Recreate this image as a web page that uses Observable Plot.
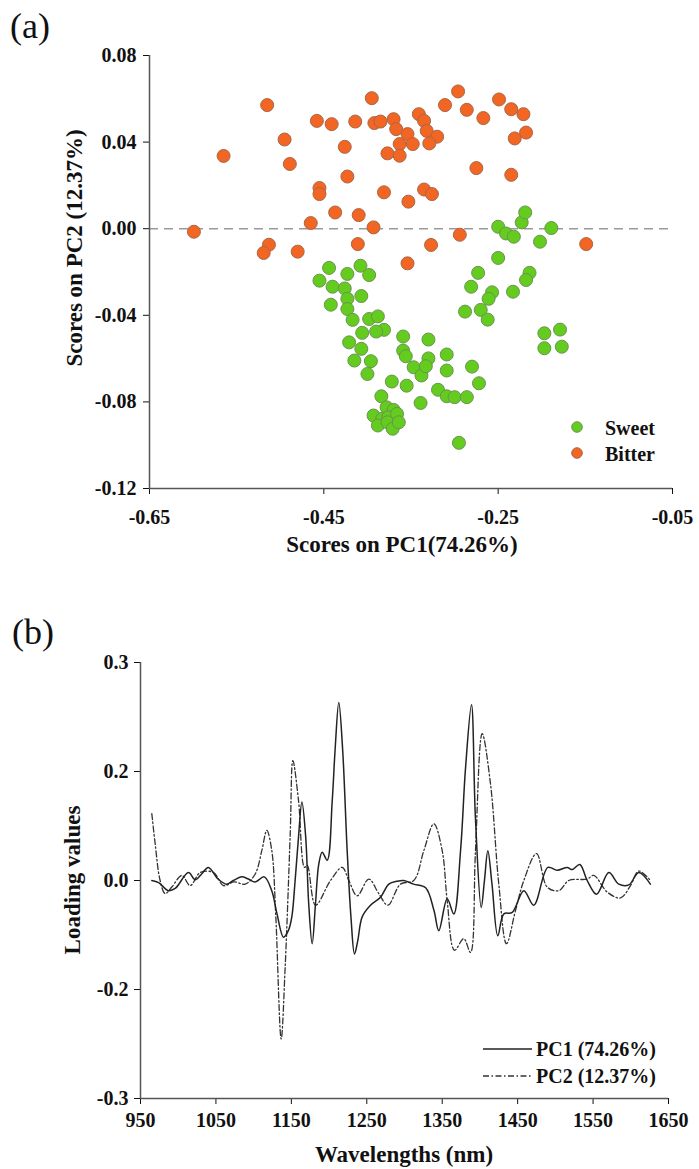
<!DOCTYPE html>
<html>
<head>
<meta charset="utf-8">
<script src="https://cdn.jsdelivr.net/npm/d3@7"></script>
<script src="https://cdn.jsdelivr.net/npm/@observablehq/plot@0.6"></script>
<style>
  html, body { margin: 0; padding: 0; background: #fff; }
  #fig { position: relative; width: 699px; height: 1169px; overflow: hidden; background: #fff; }
  #fig > svg.plotA, #fig > svg.plotB, #fig > .plotA, #fig > .plotB { position: absolute; left: 0; }
  #overlay { position: absolute; left: 0; top: 0; pointer-events: none; }
  .serif { font-family: 'Liberation Serif', 'Times New Roman', serif; }
</style>
</head>
<body>
<div id="fig"></div>
<script>
// ---------- Panel (a): PCA scores ----------
const sweetPC1 = [-0.444,-0.455,-0.440,-0.423,-0.408,-0.398,-0.426,-0.423,-0.407,-0.442,
  -0.423,-0.417,-0.398,-0.388,-0.381,-0.390,-0.406,-0.421,-0.407,-0.415,
  -0.396,-0.400,-0.359,-0.359,-0.356,-0.347,-0.338,-0.372,-0.355,-0.339,
  -0.384,-0.378,-0.370,-0.393,-0.383,-0.376,-0.366,-0.388,-0.377,-0.371,
  -0.364,-0.250,-0.223,-0.219,-0.241,-0.232,-0.189,-0.202,-0.250,-0.273,
  -0.214,-0.218,-0.281,-0.257,-0.233,-0.261,-0.288,-0.270,-0.262,-0.197,
  -0.179,-0.197,-0.177,-0.330,-0.330,-0.333,-0.309,-0.309,-0.280,-0.319,
  -0.309,-0.300,-0.286,-0.272,-0.295];
const sweetPC2 = [-0.0181,-0.0240,-0.0268,-0.0209,-0.0171,-0.0214,-0.0276,-0.0324,-0.0311,-0.0351,
  -0.0371,-0.0421,-0.0417,-0.0405,-0.0467,-0.0475,-0.0481,-0.0525,-0.0555,-0.0609,
  -0.0612,-0.0671,-0.0498,-0.0563,-0.0589,-0.0640,-0.0678,-0.0706,-0.0725,-0.0805,
  -0.0774,-0.0825,-0.0837,-0.0863,-0.0878,-0.0871,-0.0855,-0.0909,-0.0894,-0.0924,
  -0.0894,0.0009,0.0029,0.0075,-0.0022,-0.0037,0.0003,-0.0060,-0.0135,-0.0204,
  -0.0204,-0.0237,-0.0268,-0.0294,-0.0291,-0.0324,-0.0383,-0.0375,-0.0420,-0.0483,
  -0.0466,-0.0552,-0.0545,-0.0512,-0.0599,-0.0635,-0.0581,-0.0655,-0.0637,-0.0744,
  -0.0774,-0.0778,-0.0778,-0.0714,-0.0989];
const bitterPC1 = [-0.515,-0.565,-0.599,-0.495,-0.489,-0.458,-0.441,-0.414,-0.395,-0.392,
  -0.385,-0.370,-0.367,-0.354,-0.363,-0.348,-0.377,-0.363,-0.426,-0.423,
  -0.455,-0.455,-0.381,-0.353,-0.437,-0.410,-0.465,-0.393,-0.513,-0.519,
  -0.480,-0.411,-0.354,-0.341,-0.335,-0.332,-0.320,-0.329,-0.311,-0.296,
  -0.286,-0.267,-0.249,-0.235,-0.221,-0.218,-0.231,-0.275,-0.235,-0.335,
  -0.326,-0.294,-0.327,-0.149];
const bitterPC2 = [0.0571,0.0336,-0.0014,0.0412,0.0299,0.0498,0.0483,0.0495,0.0603,0.0488,
  0.0495,0.0506,0.0460,0.0437,0.0391,0.0391,0.0348,0.0337,0.0378,0.0241,
  0.0188,0.0160,0.0168,0.0125,0.0075,0.0063,0.0026,0.0006,-0.0074,-0.0112,
  -0.0106,-0.0071,-0.0160,0.0529,0.0498,0.0452,0.0425,0.0394,0.0571,0.0634,
  0.0549,0.0511,0.0597,0.0552,0.0529,0.0444,0.0417,0.0280,0.0249,0.0181,
  0.0160,-0.0028,-0.0075,-0.0071];
const scoreXTicks = [-0.65, -0.45, -0.25, -0.05];
const scoreXTickLabels = ["-0.65", "-0.45", "-0.25", "-0.05"];
const scoreYTicks = [0.08, 0.04, 0, -0.04, -0.08, -0.12];
const scoreYTickLabels = ["0.08", "0.04", "0.00", "-0.04", "-0.08", "-0.12"];

// ---------- Panel (b): loadings ----------
const pc1Wavelength = [965,974,987,996,1013.6,1022.5,1031,1040,1053,1064,1073,1084,1093,1102,1114,1124,1131,1139.6,1146,1150.6,
  1155,1159.5,1164,1169,1173,1177.6,1182,1186.4,1190.9,1197.5,1204.2,1208,1212.9,1218,1224,1229,1233.7,1238,1243.9,1254.9,
  1268.2,1279.2,1290,1299,1312,1328,1339,1345.5,1356.6,1365.4,1374.3,1381,1388.8,1394,1401.7,1406,1410.5,1416,1423.7,1431.7,
  1442.8,1458.2,1471.4,1490,1502.4,1515.7,1522.3,1532.4,1542.2,1554.6,1570.9,1584.1,1597.4,1610.6,1626];
const pc1Loading = [0,-0.003,-0.014,-0.011,0.011,0.001,0.009,0.018,0.002,-0.005,0,0.005,0.002,-0.002,0.005,-0.014,-0.046,-0.078,-0.069,-0.050,
  0,0.060,0.108,0.060,-0.032,-0.087,-0.032,0.023,0.039,0.028,0.110,0.180,0.245,0.180,0.041,-0.050,-0.101,-0.083,-0.050,-0.034,
  -0.023,-0.005,-0.001,0,-0.005,-0.010,-0.041,-0.069,-0.025,-0.046,0.041,0.156,0.242,0.087,-0.037,0,0.041,-0.005,-0.076,-0.046,
  -0.044,-0.014,-0.034,0.018,0.014,0.018,0.015,0.022,0,-0.019,0.011,-0.005,-0.006,0.011,-0.005];
const pc2Wavelength = [965,969.5,976,982.7,991.5,1004.8,1015.9,1029.2,1046.8,1060,1074,1088.8,1102.1,1110.8,1117.5,1124.1,1129.4,1136.5,1141.8,1148.5,
  1152,1159.5,1167.4,1171,1182,1201.9,1217.4,1226.2,1237.3,1252.7,1265.9,1277.9,1294.7,1312.3,1325.6,1338.9,1350,1356.6,1366.3,1378.6,
  1387.5,1394.1,1403,1414,1425,1435.2,1447.2,1458.2,1475,1489.2,1504.6,1517.8,1542.2,1551,1568.8,1586.4,1599.6,1610.6,1626];
const pc2Loading = [0.092,0.050,0,-0.018,-0.009,0.007,-0.007,0.011,0.011,-0.007,-0.002,-0.005,0.009,0.041,0.069,0.041,-0.050,-0.218,-0.119,0.064,
  0.165,0.110,0.018,0.021,-0.034,0,0.018,0,-0.021,0.002,-0.018,-0.034,-0.005,0,0.041,0.078,0.041,-0.028,-0.096,-0.080,
  -0.099,0.041,0.202,0.133,-0.005,-0.087,-0.041,0,0.037,-0.009,-0.014,0,0.002,0.007,-0.016,-0.024,-0.007,0.013,0];
const waveTicks = [950, 1050, 1150, 1250, 1350, 1450, 1550, 1650];
const waveTickLabels = ["950", "1050", "1150", "1250", "1350", "1450", "1550", "1650"];
const loadTicks = [0.3, 0.15, 0, -0.15, -0.3];
const loadTickLabels = ["0.3", "0.2", "0.0", "-0.2", "-0.3"];

// ---------- build ----------
const sweet = sweetPC1.map((v, i) => ({pc1: v, pc2: sweetPC2[i]}));
const bitter = bitterPC1.map((v, i) => ({pc1: v, pc2: bitterPC2[i]}));
const pc1 = pc1Wavelength.map((w, i) => ({w, v: pc1Loading[i]}));
const pc2 = pc2Wavelength.map((w, i) => ({w, v: pc2Loading[i]}));
const lab = (ticks, labels) => d => labels[ticks.findIndex(t => Math.abs(t - d) < 1e-9)];

const FONT = "'Liberation Serif', 'Times New Roman', serif";
const GREEN = "#63cc1f", GREEN_S = "#6a9450";
const ORANGE = "#f26522", ORANGE_S = "#a8674a";
const AXIS = "#555";

const baseStyle = {fontFamily: FONT, fontSize: "20px", fontWeight: "bold", color: "#111", background: "transparent", overflow: "visible"};

const plotA = Plot.plot({
  width: 699, height: 570,
  marginLeft: 149, marginRight: 27, marginTop: 55, marginBottom: 82,
  style: baseStyle,
  x: {domain: [-0.65, -0.05], ticks: scoreXTicks, tickFormat: lab(scoreXTicks, scoreXTickLabels), tickSize: 6, tickPadding: 15, label: null},
  y: {domain: [-0.12, 0.08], ticks: scoreYTicks, tickFormat: lab(scoreYTicks, scoreYTickLabels), tickSize: 6, tickPadding: 7, label: null},
  marks: [
    Plot.ruleY([0], {stroke: "#9a9a9a", strokeWidth: 1.5, strokeDasharray: "9,6"}),
    Plot.ruleX([-0.65], {stroke: AXIS, strokeWidth: 1.5}),
    Plot.ruleY([-0.12], {stroke: AXIS, strokeWidth: 1.5}),
    Plot.dot(bitter, {x: "pc1", y: "pc2", r: 6.5, fill: ORANGE, stroke: ORANGE_S, strokeWidth: 1}),
    Plot.dot(sweet, {x: "pc1", y: "pc2", r: 6.5, fill: GREEN, stroke: GREEN_S, strokeWidth: 1})
  ]
});
plotA.classList.add("plotA");
plotA.style.position = "absolute"; plotA.style.top = "0px"; plotA.style.left = "0px";

const plotB = Plot.plot({
  width: 699, height: 569,
  marginLeft: 140, marginRight: 31, marginTop: 62, marginBottom: 71,
  style: baseStyle,
  x: {domain: [950, 1650], ticks: waveTicks, tickFormat: lab(waveTicks, waveTickLabels), tickSize: 6, tickPadding: 8, label: null},
  y: {domain: [-0.3, 0.3], ticks: loadTicks, tickFormat: lab(loadTicks, loadTickLabels), tickSize: 6, tickPadding: 6, label: null},
  marks: [
    Plot.ruleX([950], {stroke: AXIS, strokeWidth: 1.5}),
    Plot.ruleY([-0.3], {stroke: AXIS, strokeWidth: 1.5}),
    Plot.line(pc2, {x: "w", y: "v", curve: "catmull-rom", stroke: "#333", strokeWidth: 1.3, strokeDasharray: "6,2.5,1.5,2.5"}),
    Plot.line(pc1, {x: "w", y: "v", curve: "catmull-rom", stroke: "#222", strokeWidth: 1.5})
  ]
});
plotB.classList.add("plotB");
plotB.style.position = "absolute"; plotB.style.top = "600px"; plotB.style.left = "0px";

const fig = document.getElementById("fig");
fig.appendChild(plotA);
fig.appendChild(plotB);

// ---------- annotations (titles, legends, panel letters) ----------
const NS = "http://www.w3.org/2000/svg";
const ov = document.createElementNS(NS, "svg");
ov.setAttribute("id", "overlay");
ov.setAttribute("width", 699);
ov.setAttribute("height", 1169);
function txt(s, x, y, opts = {}) {
  const t = document.createElementNS(NS, "text");
  t.textContent = s;
  t.setAttribute("x", x); t.setAttribute("y", y);
  t.setAttribute("font-family", FONT);
  t.setAttribute("font-size", opts.size || 20);
  t.setAttribute("font-weight", opts.weight || "bold");
  t.setAttribute("text-anchor", opts.anchor || "middle");
  t.setAttribute("dominant-baseline", "central");
  t.setAttribute("fill", "#111");
  if (opts.rotate) t.setAttribute("transform", `rotate(-90 ${x} ${y})`);
  ov.appendChild(t);
}
function el(name, attrs) {
  const e = document.createElementNS(NS, name);
  for (const k in attrs) e.setAttribute(k, attrs[k]);
  ov.appendChild(e);
}
txt("(a)", 10, 26, {size: 36, weight: "normal", anchor: "start"});
txt("(b)", 12, 632, {size: 36, weight: "normal", anchor: "start"});
txt("Scores on PC1(74.26%)", 402, 544, {size: 23});
txt("Scores on PC2 (12.37%)", 74, 248, {size: 23, rotate: true});
txt("Wavelengths (nm)", 404, 1154, {size: 23});
txt("Loading values", 72, 880, {size: 23, rotate: true});
// legend (a)
el("circle", {cx: 577, cy: 427, r: 5.3, fill: GREEN, stroke: GREEN_S, "stroke-width": 1});
el("circle", {cx: 577, cy: 453, r: 5.3, fill: ORANGE, stroke: ORANGE_S, "stroke-width": 1});
txt("Sweet", 605, 428, {anchor: "start"});
txt("Bitter", 605, 454, {anchor: "start"});
// legend (b)
el("line", {x1: 483, x2: 532, y1: 1049, y2: 1049, stroke: "#222", "stroke-width": 1.5});
el("line", {x1: 483, x2: 532, y1: 1076, y2: 1076, stroke: "#333", "stroke-width": 1.3, "stroke-dasharray": "6,2.5,1.5,2.5"});
txt("PC1 (74.26%)", 536, 1049, {anchor: "start"});
txt("PC2 (12.37%)", 536, 1076, {anchor: "start"});
fig.appendChild(ov);
</script>
</body>
</html>
